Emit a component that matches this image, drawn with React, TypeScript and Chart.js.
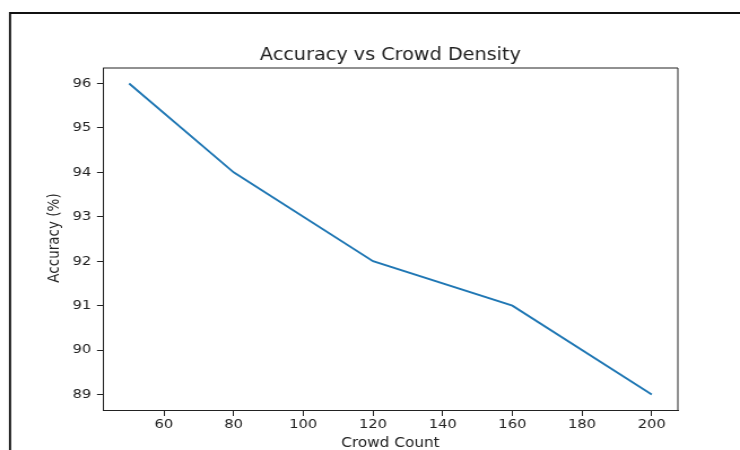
import React, { useEffect, useRef } from "react";
import { Chart, registerables } from "chart.js";

Chart.register(...registerables);

// ---- data ----
const crowdCount = [50, 80, 120, 160, 200];
const accuracyPct = [96, 94, 92, 91, 89];
const xTickValues = [60, 80, 100, 120, 140, 160, 180, 200];
const yTickValues = [89, 90, 91, 92, 93, 94, 95, 96];
const chartTitle = "Accuracy vs Crowd Density";
const xAxisTitle = "Crowd Count";
const yAxisTitle = "Accuracy (%)";

// ---- layout ----
const STRETCH = 1.13; // reference is horizontally stretched
const VIEW_W = 740;
const VIEW_H = 450;
const CANVAS_W = Math.round(VIEW_W / STRETCH);
const FONT = "'DejaVu Sans', sans-serif";
const INK = "#222";

function paddedRange(values: number[]): [number, number] {
  const lo = Math.min(...values);
  const hi = Math.max(...values);
  const m = (hi - lo) * 0.05;
  return [lo - m, hi + m];
}

const decorPlugin = {
  id: "decor",
  beforeDraw(chart: any) {
    const ctx = chart.ctx as CanvasRenderingContext2D;
    ctx.save();
    ctx.fillStyle = "#fff";
    ctx.fillRect(0, 0, chart.width, chart.height);
    ctx.strokeStyle = "#111";
    ctx.lineWidth = 2;
    ctx.beginPath();
    ctx.moveTo(8, 13);
    ctx.lineTo(chart.width, 13);
    ctx.stroke();
    ctx.lineWidth = 1.9;
    ctx.beginPath();
    ctx.moveTo(8.85, 12);
    ctx.lineTo(8.85, chart.height);
    ctx.stroke();
    ctx.restore();
  },
  afterDraw(chart: any) {
    const ctx = chart.ctx as CanvasRenderingContext2D;
    const a = chart.chartArea;
    ctx.save();
    // top & right spines
    ctx.strokeStyle = INK;
    ctx.lineWidth = 1;
    ctx.beginPath();
    ctx.moveTo(a.left, a.top);
    ctx.lineTo(a.right, a.top);
    ctx.lineTo(a.right, a.bottom);
    ctx.stroke();

    const cx = (a.left + a.right) / 2;
    const cy = (a.top + a.bottom) / 2;
    ctx.fillStyle = INK;
    ctx.textAlign = "center";
    ctx.textBaseline = "alphabetic";

    ctx.font = `17px ${FONT}`;
    ctx.fillText(chartTitle, cx, 59.5);

    ctx.font = `13.5px ${FONT}`;
    ctx.fillText(xAxisTitle, cx, 447);

    ctx.translate(52.2, cy - 1);
    ctx.rotate(-Math.PI / 2);
    ctx.fillText(yAxisTitle, 0, 0);
    ctx.restore();
  },
};

export default function App() {
  const ref = useRef<HTMLCanvasElement | null>(null);

  useEffect(() => {
    if (!ref.current) return;
    const [xMin, xMax] = paddedRange(crowdCount);
    const [yMin, yMax] = paddedRange(accuracyPct);
    const chart = new Chart(ref.current, {
      type: "line",
      data: {
        datasets: [
          {
            data: crowdCount.map((x, i) => ({ x, y: accuracyPct[i] })),
            borderColor: "#1f77b4",
            borderWidth: 1.9,
            pointRadius: 0,
            tension: 0,
            fill: false,
          },
        ],
      },
      options: {
        responsive: false,
        animation: false,
        devicePixelRatio: 1,
        layout: { padding: { top: 68, right: CANVAS_W - 600, left: 0, bottom: 0 } },
        plugins: {
          legend: { display: false },
          title: { display: false },
          tooltip: { enabled: false },
        },
        scales: {
          x: {
            type: "linear",
            min: xMin,
            max: xMax,
            afterBuildTicks: (axis: any) => {
              axis.ticks = xTickValues.map((v) => ({ value: v }));
            },
            afterFit: (axis: any) => {
              axis.height = 40;
            },
            grid: {
              drawOnChartArea: false,
              drawTicks: true,
              tickLength: 6,
              color: INK,
              lineWidth: 1,
            },
            border: { display: true, color: INK, width: 1 },
            ticks: {
              color: INK,
              font: { family: FONT, size: 13 },
              padding: 1,
              maxRotation: 0,
              autoSkip: false,
            },
          },
          y: {
            type: "linear",
            min: yMin,
            max: yMax,
            afterBuildTicks: (axis: any) => {
              axis.ticks = yTickValues.map((v) => ({ value: v }));
            },
            afterFit: (axis: any) => {
              axis.width = 103 / STRETCH;
            },
            grid: {
              drawOnChartArea: false,
              drawTicks: true,
              tickLength: 6 / STRETCH,
              color: INK,
              lineWidth: 1,
            },
            border: { display: true, color: INK, width: 1 },
            ticks: {
              color: INK,
              font: { family: FONT, size: 13 },
              padding: 5,
              autoSkip: false,
            },
          },
        },
      },
      plugins: [decorPlugin],
    });
    return () => chart.destroy();
  }, []);

  return (
    <canvas
      ref={ref}
      width={CANVAS_W}
      height={VIEW_H}
      style={{
        position: "fixed",
        left: 0,
        top: 0,
        width: `${VIEW_W}px`,
        height: `${VIEW_H}px`,
        display: "block",
      }}
    />
  );
}
